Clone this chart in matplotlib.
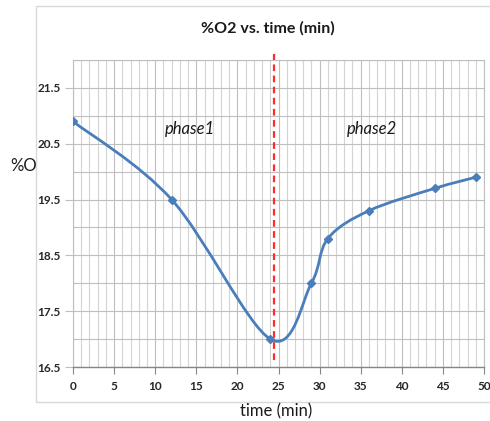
import numpy as np
import matplotlib
matplotlib.use('Agg')
import matplotlib.pyplot as plt
from matplotlib.path import Path
from matplotlib.patches import PathPatch, Rectangle
from matplotlib.transforms import Bbox, TransformedBbox
from matplotlib.ticker import MultipleLocator

plt.rcParams['font.family'] = ['Lato', 'DejaVu Sans']

# data
time_min = [0, 12, 24, 29, 31, 36, 44, 49]
o2_pct = [20.9, 19.5, 17.0, 18.0, 18.8, 19.3, 19.7, 19.9]
phase_split = 24.5
phase_labels = ['phase1', 'phase2']
phase_label_x = [14.2, 36.4]
phase_label_y = 20.77

blue = '#4A7EBB'

fig = plt.figure(figsize=(4.9, 4.21), dpi=100)
fig.patch.set_facecolor('white')

# chart area border (Excel style)
fig.patches.append(Rectangle((36 / 490, 1 - 402 / 421), 1.2, (402 - 6) / 421,
                             transform=fig.transFigure, fill=False,
                             edgecolor='#D9D9D9', lw=1.0))

ax = fig.add_axes([73 / 490, 1 - 367 / 421, (484 - 73) / 490, (367 - 60) / 421])
ax.set_xlim(0, 50)
ax.set_ylim(16.5, 22.0)

ax.xaxis.set_major_locator(MultipleLocator(5))
ax.xaxis.set_minor_locator(MultipleLocator(1))
ax.yaxis.set_minor_locator(MultipleLocator(0.5))
ax.set_yticks(np.arange(16.5, 21.6, 1.0))

ax.grid(which='major', axis='x', color='#BFBFBF', lw=0.8)
ax.grid(which='minor', axis='x', color='#D4D4D4', lw=0.8)
ax.grid(which='minor', axis='y', color='#BFBFBF', lw=0.8)
ax.grid(which='major', axis='y', color='#BFBFBF', lw=0.8)
ax.set_axisbelow(True)

for s in ['top', 'right', 'left']:
    ax.spines[s].set_color('#BFBFBF')
    ax.spines[s].set_linewidth(0.8)
ax.spines['bottom'].set_color('#868686')
ax.spines['bottom'].set_linewidth(1.0)

ax.tick_params(axis='x', which='major', length=5, color='#868686', direction='out', pad=5)
ax.tick_params(axis='y', which='major', length=6, color='#BFBFBF', direction='out', pad=3)
ax.tick_params(which='minor', length=0)
for lab in ax.get_xticklabels() + ax.get_yticklabels():
    lab.set_fontweight('bold')
    lab.set_fontsize(8.5)
    lab.set_color('#262626')

# smoothed line (Excel-like bezier through the points)
x = np.array(time_min, float)
y = np.array(o2_pct, float)
px = np.concatenate([[x[0]], x, [x[-1]]])
py = np.concatenate([[y[0]], y, [y[-1]]])
verts = [(x[0], y[0])]
codes = [Path.MOVETO]
for i in range(1, len(x)):
    c1 = (px[i] + (px[i + 1] - px[i - 1]) / 6, py[i] + (py[i + 1] - py[i - 1]) / 6)
    c2 = (px[i + 1] - (px[i + 2] - px[i]) / 6, py[i + 1] - (py[i + 2] - py[i]) / 6)
    verts += [c1, c2, (x[i], y[i])]
    codes += [Path.CURVE4] * 3
ax.add_patch(PathPatch(Path(verts, codes), fill=False, edgecolor=blue, lw=2, zorder=3))
ax.plot(time_min, o2_pct, linestyle='none', marker='D', ms=4.5, color=blue, zorder=4)

# phase divider
ax.plot([phase_split, phase_split], [16.62, 22.1], color='#FF2A2A', lw=1.6,
        linestyle=(0, (3, 2)), clip_on=False, zorder=5)
for lx, lt in zip(phase_label_x, phase_labels):
    ax.text(lx, phase_label_y, lt, style='italic', fontsize=12, ha='center',
            va='center', color='#1a1a1a')

fig.text(268 / 490, 1 - 28 / 421, '%O2 vs. time (min)', ha='center', va='center',
         fontsize=11.5, fontweight='bold', color='#1a1a1a')
fig.text(276 / 490, 1 - 411 / 421, 'time (min)', ha='center', va='center',
         fontsize=12, color='#1a1a1a')
yl = fig.text(10 / 490, 1 - 166 / 421, '%O2', ha='left', va='center',
              fontsize=12, color='#1a1a1a')
yl.set_clip_box(TransformedBbox(Bbox([[0, 0], [36 / 490, 1]]), fig.transFigure))
yl.set_clip_on(True)

fig.savefig('out.png', dpi=100)
